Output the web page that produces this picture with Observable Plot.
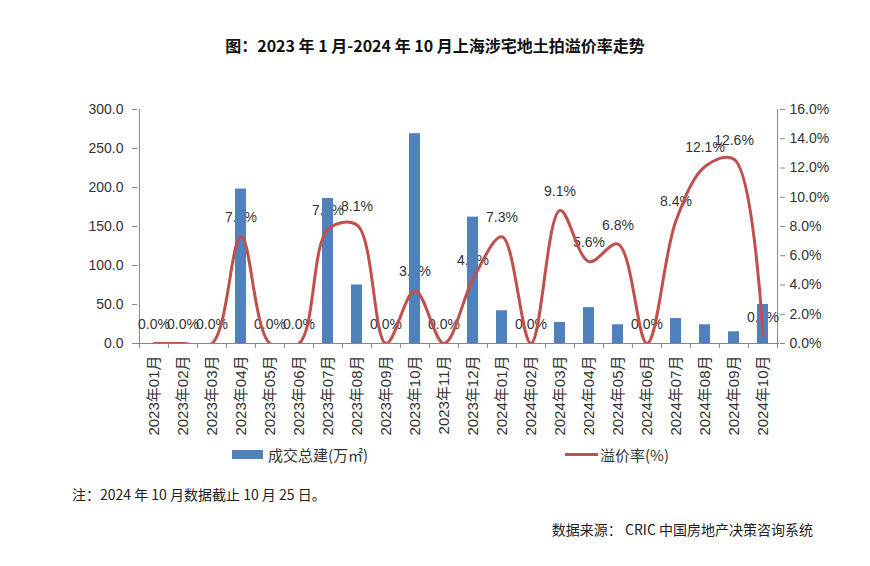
<!DOCTYPE html>
<html>
<head>
<meta charset="utf-8">
<script src="https://cdn.jsdelivr.net/npm/d3@7"></script>
<script src="https://cdn.jsdelivr.net/npm/@observablehq/plot@0.6"></script>
<style>
  html, body { margin: 0; padding: 0; background: #fff; }
  #wrap { position: relative; width: 870px; height: 566px; overflow: hidden; font-family: "Liberation Sans", "Noto Sans CJK SC", sans-serif; color: #222; }
  #title { position: absolute; left: 0; width: 870px; top: 33px; text-align: center; font-family: "Noto Sans CJK SC", sans-serif; font-weight: bold; font-size: 16px; color: #111; }
  #chart { position: absolute; left: 0; top: 90px; }
  .leg { position: absolute; top: 444px; font-size: 15px; font-family: "Noto Sans CJK SC", sans-serif; color: #333; display: flex; align-items: center; }
  .note { position: absolute; font-size: 14px; font-family: "Noto Sans CJK SC", sans-serif; color: #222; }
</style>
</head>
<body>
<div id="wrap">
  <div id="title">图：2023 年 1 月-2024 年 10 月上海涉宅地土拍溢价率走势</div>
  <div id="chart"></div>
  <div class="leg" style="left:232px;"><span style="display:inline-block;width:31px;height:9px;background:#4F81BD;margin-right:5px;"></span><span id="leg1"></span></div>
  <div class="leg" style="left:565px;"><span style="display:inline-block;width:33px;height:3px;background:#C0504D;margin-right:2px;"></span><span id="leg2"></span></div>
  <div class="note" style="left:72px; top:484px;">注：2024 年 10 月数据截止 10 月 25 日。</div>
  <div class="note" style="right:57px; top:519px;">数据来源：&nbsp;CRIC 中国房地产决策咨询系统</div>
</div>
<script>
const months = ["2023年01月","2023年02月","2023年03月","2023年04月","2023年05月","2023年06月","2023年07月","2023年08月","2023年09月","2023年10月","2023年11月","2023年12月","2024年01月","2024年02月","2024年03月","2024年04月","2024年05月","2024年06月","2024年07月","2024年08月","2024年09月","2024年10月"];
const area = [0,0,0,198,0,0,186,75,0,269,0,162,42,0,27,46,24,0,32,24,15,50];
const rate = [0,0,0,7.3,0,0,7.8,8.1,0,3.6,0,4.4,7.3,0,9.1,5.6,6.8,0,8.4,12.1,12.6,0.5];
const leftTicks = [0,50,100,150,200,250,300];
const rightTicks = [0,2,4,6,8,10,12,14,16];
const seriesNames = ["成交总建(万㎡)", "溢价率(%)"];

document.getElementById("leg1").textContent = seriesNames[0];
document.getElementById("leg2").textContent = seriesNames[1];

const W = 870, H = 360, mL = 137, mR = 91, mT = 19, mB = 107;
const yMax = leftTicks[leftTicks.length - 1];
const rMax = rightTicks[rightTicks.length - 1];
const k = yMax / rMax;
const step = (W - mL - mR) / months.length;
const pxPerUnit = (H - mT - mB) / yMax;

const data = months.map((m, i) => ({month: m, area: area[i], rate: rate[i], ry: rate[i] * k}));
const axisColor = "#868686";
const fontFam = "'Liberation Sans', 'Noto Sans CJK SC', sans-serif";

const chart = Plot.plot({
  width: W, height: H,
  marginLeft: mL, marginRight: mR, marginTop: mT, marginBottom: mB,
  style: {fontFamily: fontFam, fontSize: "14px", color: "#333", background: "transparent"},
  x: {type: "band", domain: months, paddingInner: 0.62, paddingOuter: 0.31, label: null},
  y: {domain: [0, yMax], label: null},
  marks: [
    Plot.ruleX([months[0]], {dx: -step / 2, y1: 0, y2: yMax, stroke: axisColor}),
    Plot.ruleX([months[months.length - 1]], {dx: step / 2, y1: 0, y2: yMax, stroke: axisColor}),
    Plot.ruleX(months, {x: d => d, dx: -step / 2, y1: 0, y2: -5 / pxPerUnit, stroke: axisColor}),
    Plot.ruleX([months[months.length - 1]], {dx: step / 2, y1: 0, y2: -5 / pxPerUnit, stroke: axisColor}),
    Plot.axisY({anchor: "left", ticks: leftTicks, tickFormat: d => d.toFixed(1), tickSize: 5, tickPadding: 9, stroke: axisColor, fill: "#333", fontSize: 14, label: null}),
    Plot.axisY({anchor: "right", ticks: rightTicks.map(r => r * k), tickFormat: d => (d / k).toFixed(1) + "%", tickSize: 5, tickPadding: 5, stroke: axisColor, fill: "#333", fontSize: 14, label: null}),
    Plot.axisX({tickRotate: -90, tickSize: 0, tickPadding: 12, fontSize: 15, fill: "#333", label: null}),
    Plot.text(data, {x: "month", y: "ry", text: d => d.rate.toFixed(1) + "%", dy: -19, fill: "#333", fontSize: 14}),
    Plot.barY(data, {x: "month", y: "area", fill: "#4F81BD"}),
    Plot.ruleY([0], {stroke: axisColor}),
    Plot.line(data, {x: "month", y: "ry", curve: "catmull-rom", stroke: "#C0504D", strokeWidth: 3, clip: true})
  ]
});
document.getElementById("chart").appendChild(chart);
</script>
</body>
</html>
